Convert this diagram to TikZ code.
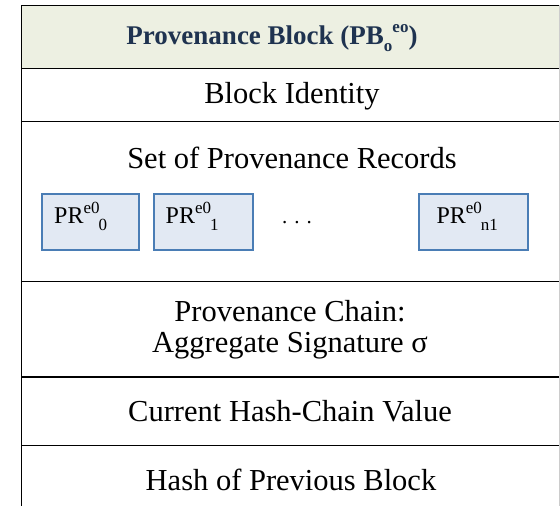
\documentclass[tikz,border=0pt]{standalone}
\usepackage{fontspec}
\setmainfont{Liberation Serif}
\definecolor{hdrfill}{HTML}{EDF0E2}
\definecolor{hdrtext}{HTML}{1F3350}
\definecolor{prfill}{HTML}{E2E9F3}
\definecolor{prdraw}{HTML}{4A7DB5}
\newcommand\prlab[2]{PR\raisebox{0.40em}{\fontsize{17}{17}\selectfont e0}\kern-1pt\raisebox{-0.30em}{\fontsize{17}{17}\selectfont #2}}
\tikzset{
  rowline/.style={line width=1.8pt},
  rowtext/.style={font=\fontsize{30.5}{32}\selectfont, inner sep=0pt, anchor=center},
  prbox/.style={draw=prdraw, fill=prfill, line width=2pt, inner sep=0pt, minimum height=56pt},
  prtext/.style={font=\fontsize{24}{25}\selectfont, inner sep=0pt, anchor=base west},
}
\begin{document}
\begin{tikzpicture}[x=1pt,y=1pt]
\useasboundingbox (0,0) rectangle (560,-506);
% header fill
\fill[hdrfill] (21.5,-5.5) rectangle (560,-68.5);
% frame lines
\coordinate (tl) at (21.5,-5.5);
\coordinate (bl) at (21.5,-520);
\coordinate (tr) at (562,-5.5);
\draw[rowline] (bl) -- (tl) -- (tr);
\foreach \yy/\nm in {68.5/h1,121.5/h2,281.5/h3,377/h4,445.5/h5}{
  \coordinate (\nm l) at (21.5,-\yy);
  \coordinate (\nm r) at (562,-\yy);
  \draw[rowline] (\nm l) -- (\nm r);
}
\draw[gray!40, line width=0.8pt] (559.6,-5) -- (559.6,-506);
% texts
\node[rowtext, font=\fontsize{27}{29}\selectfont\bfseries, text=hdrtext] (title) at (272,-38)
  {Provenance Block (PB\raisebox{-0.25em}{\fontsize{17}{17}\selectfont o}\raisebox{0.45em}{\fontsize{17}{17}\selectfont eo})};
\node[rowtext] (bid) at (292,-96) {Block Identity};
\node[rowtext] (set) at (292,-158) {Set of Provenance Records};
\node[rowtext] (chain1) at (290,-311) {Provenance Chain:};
\node[rowtext] (chain2) at (290,-346) {Aggregate Signature σ};
\node[rowtext] (cur) at (290,-411) {Current Hash-Chain Value};
\node[rowtext] (prev) at (291,-480) {Hash of Previous Block};
% PR boxes
\node[prbox, minimum width=97pt] (pr0) at (90.5,-221.5) {};
\node[prbox, minimum width=99pt] (pr1) at (203,-221.5) {};
\node[prbox, minimum width=109pt] (prn) at (473.8,-221.5) {};
\node[prtext] (pr0t) at ([xshift=13pt,yshift=-2pt]pr0.west) {\prlab{e0}{0}};
\node[prtext] (pr1t) at ([xshift=13pt,yshift=-2pt]pr1.west) {\prlab{e0}{1}};
\node[prtext] (prnt) at ([xshift=18pt,yshift=-2pt]prn.west) {\prlab{e0}{n1}};
\node[font=\fontsize{21}{22}\selectfont, inner sep=0pt] (dots) at (297,-223) {.\hspace{7pt}.\hspace{7pt}.};
\end{tikzpicture}
\end{document}
